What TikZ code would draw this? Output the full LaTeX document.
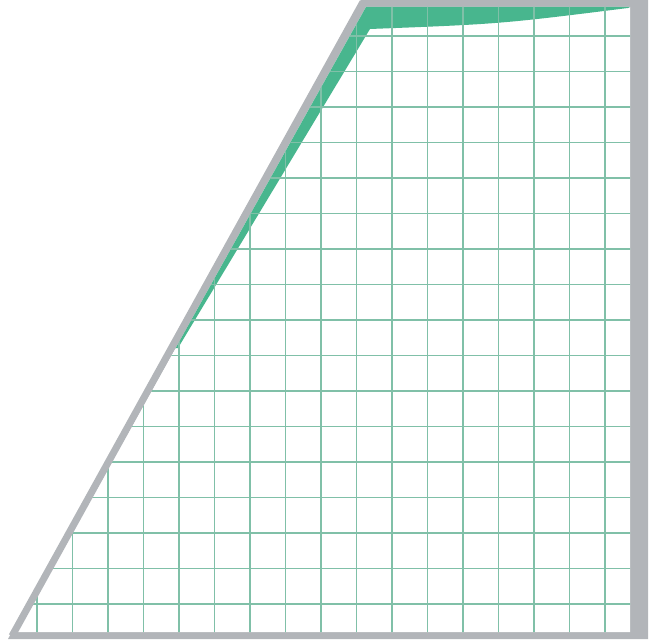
\documentclass[tikz,border=0pt]{standalone}
\usepackage{tikz}

\definecolor{marco}{RGB}{178,181,185}
\definecolor{verde}{RGB}{72,182,142}
\definecolor{rejilla}{RGB}{128,192,168}

\tikzset{
  borde/.style={fill=marco},
  linea/.style={draw=rejilla, line width=1.2pt},
}

\begin{document}
\begin{tikzpicture}[x=1pt,y=-1pt]
			\useasboundingbox (0,0) rectangle (658,644);
			% Marco gris
			\fill[borde] (8,639) -- (361,0) -- (648,0) -- (648,639) -- cycle;
			\fill[white] (17,632) -- (366,7) -- (630,7) -- (630,632) -- cycle;
			
			\begin{scope}
				\clip (17,632) -- (366,7) -- (630,7) -- (630,632) -- cycle;
				% Cuña verde arriba
				\fill[verde] (360,7) -- (630,7) -- (628,8) .. controls (500,24) .. (370,29) -- (178,348) -- (160,350) -- cycle;
				% Cuadrícula
				\foreach \i in {0,...,16} {
					\draw[linea] (37+35.5*\i,0) -- (37+35.5*\i,640);
					\draw[linea] (0,36+35.5*\i) -- (640,36+35.5*\i);
				}
			\end{scope}
			% Borde izquierdo
			\draw[marco, line width=7pt] (12,636) -- (363,2);
		\end{tikzpicture}
\end{document}
